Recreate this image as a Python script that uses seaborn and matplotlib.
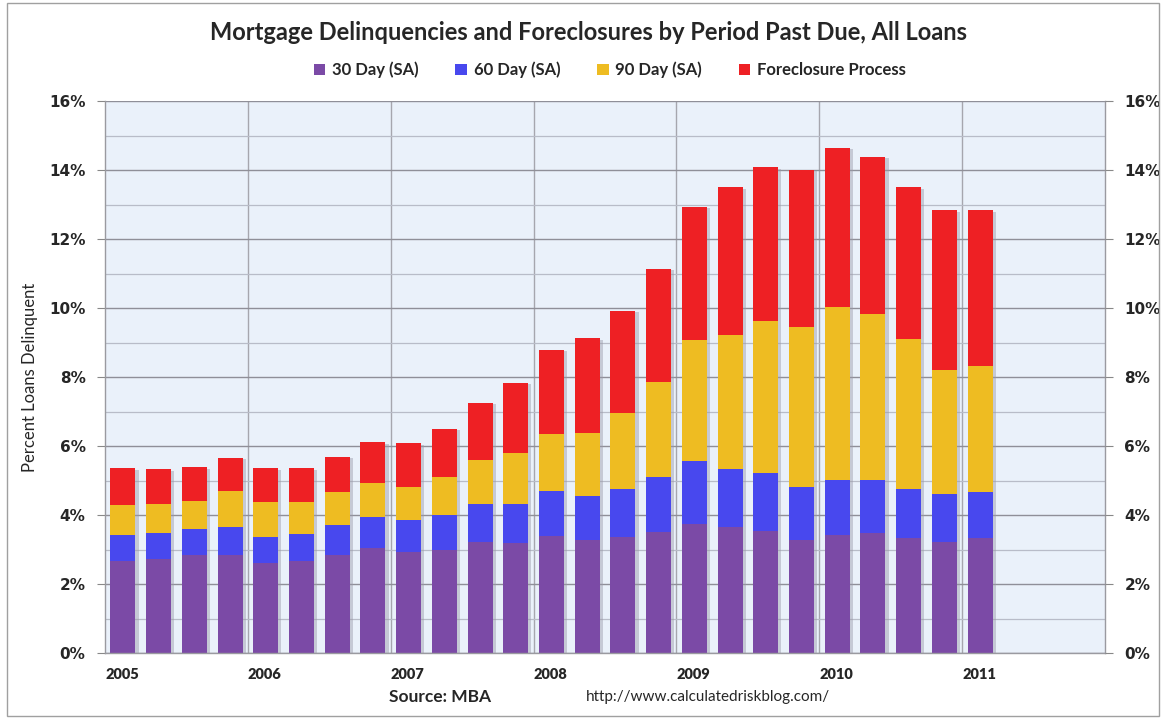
import numpy as np
import pandas as pd
import matplotlib
matplotlib.use("Agg")
import matplotlib.pyplot as plt
from matplotlib.patches import Patch, Rectangle
from matplotlib.ticker import MultipleLocator
import seaborn as sns

quarters = [f"{y}Q{q}" for y in range(2005, 2011) for q in range(1, 5)] + ["2011Q1"]
year_labels = ["2005", "2006", "2007", "2008", "2009", "2010", "2011"]
pct_ticks = [0, 2, 4, 6, 8, 10, 12, 14, 16]
pct_labels = [f"{t}%" for t in pct_ticks]

d30 = [2.67, 2.72, 2.84, 2.84, 2.61, 2.66, 2.85, 3.04, 2.92, 3.00, 3.21, 3.18, 3.40,
       3.28, 3.37, 3.51, 3.74, 3.64, 3.54, 3.28, 3.41, 3.47, 3.32, 3.21, 3.32]
d60 = [0.75, 0.76, 0.75, 0.81, 0.76, 0.79, 0.85, 0.91, 0.93, 1.00, 1.11, 1.14, 1.29,
       1.26, 1.39, 1.59, 1.83, 1.68, 1.68, 1.54, 1.60, 1.54, 1.44, 1.39, 1.36]
d90 = [0.87, 0.84, 0.82, 1.04, 1.01, 0.93, 0.96, 0.97, 0.97, 1.10, 1.27, 1.49, 1.66,
       1.85, 2.19, 2.76, 3.50, 3.90, 4.39, 4.64, 5.01, 4.83, 4.34, 3.61, 3.64]
fcl = [1.06, 1.00, 0.97, 0.97, 0.97, 0.97, 1.03, 1.19, 1.26, 1.39, 1.67, 2.02, 2.44,
       2.73, 2.96, 3.28, 3.86, 4.28, 4.47, 4.54, 4.62, 4.55, 4.40, 4.62, 4.51]

series_names = ["30 Day (SA)", "60 Day (SA)", "90 Day (SA)", "Foreclosure Process"]
colors = ["#7B4AA6", "#4848EE", "#EEBC22", "#EE2024"]

df = pd.DataFrame({"quarter": quarters, "30": d30, "60": d60, "90": d90, "fc": fcl})
df["c30"] = df["30"]
df["c60"] = df["c30"] + df["60"]
df["c90"] = df["c60"] + df["90"]
df["ctot"] = df["c90"] + df["fc"]

sns.set_theme(style="white")
plt.rcParams["font.family"] = ["Lato", "DejaVu Sans"]

fig = plt.figure(figsize=(11.66, 7.19), dpi=100)
fig.patch.set_facecolor("white")
ax = fig.add_axes([105 / 1166, 66 / 719, 1000 / 1166, 552 / 719])
ax.set_facecolor("#EAF1FA")

n = len(quarters)
# drop shadows
ax.bar(np.arange(n) + 0.09, df["ctot"], width=0.7, bottom=-0.04, color="#9a9aa8",
       alpha=0.45, zorder=0.9, linewidth=0)

for col, c in zip(["ctot", "c90", "c60", "c30"], colors[::-1]):
    sns.barplot(data=df, x="quarter", y=col, order=quarters, color=c, width=0.7,
                errorbar=None, saturation=1, ax=ax, zorder=2, linewidth=0)

ax.set_xlim(-0.5, 27.5)
ax.set_ylim(0, 16)
ax.set_axisbelow(True)

# grid
ax.set_yticks(pct_ticks)
ax.set_yticklabels(pct_labels, fontfamily="DejaVu Sans", fontweight="bold", fontsize=11)
ax.yaxis.set_minor_locator(MultipleLocator(1))
ax.grid(which="major", axis="y", color="#8f8f98", lw=1.0, zorder=0)
ax.grid(which="minor", axis="y", color="#b8bcc8", lw=0.9, zorder=0)
bounds = [-0.5 + 4 * i for i in range(7)]
for b in bounds[1:]:
    ax.axvline(b, color="#a6a6ae", lw=1.0, zorder=0.5)

ax.tick_params(axis="y", which="major", direction="out", length=6, width=0.8,
               color="#888888", pad=8)
ax.tick_params(axis="y", which="minor", length=0)

ax.set_xticks(bounds)
ax.set_xticklabels(year_labels, fontsize=10.5, fontweight="heavy", ha="left")
ax.tick_params(axis="x", direction="out", length=5, width=0.8, color="#888888", pad=6)
ax.set_xlabel("")
ax.set_ylabel("Percent Loans Delinquent", fontsize=12, labelpad=8)

for s in ["left", "right", "bottom", "top"]:
    ax.spines[s].set_color("#9a9aa0")
    ax.spines[s].set_linewidth(1.0)
ax.spines["top"].set_visible(False)

ax2 = ax.twinx()
ax2.set_ylim(0, 16)
ax2.set_yticks(pct_ticks)
ax2.set_yticklabels(pct_labels, fontfamily="DejaVu Sans", fontweight="bold", fontsize=11)
ax2.tick_params(axis="y", direction="out", length=6, width=0.8, color="#888888", pad=8)
for s in ["left", "right", "bottom", "top"]:
    ax2.spines[s].set_visible(False)
ax2.grid(False)

fig.text(0.505, 1 - 32 / 719, "Mortgage Delinquencies and Foreclosures by Period Past Due, All Loans",
         ha="center", va="center", fontsize=17, fontweight="bold")

handles = [Patch(facecolor=c, edgecolor="none", label=l) for c, l in zip(colors, series_names)]
leg = fig.legend(handles=handles, loc="center", bbox_to_anchor=(0.523, 1 - 70 / 719), ncol=4,
                 frameon=False, handlelength=0.7, handleheight=0.7, handletextpad=0.4,
                 columnspacing=2.2, prop={"family": "Lato", "weight": "bold", "size": 12})

fig.text(440 / 1166, 1 - 697 / 719, "Source: MBA", ha="center", va="center",
         fontsize=12.5, fontweight="bold")
fig.text(708 / 1166, 1 - 697 / 719, "http://www.calculatedriskblog.com/", ha="center",
         va="center", fontsize=11)

fig.patches.append(Rectangle((0.006, 0.004), 0.988, 0.992, transform=fig.transFigure,
                             fill=False, edgecolor="#a0a0a0", lw=1.0))

fig.savefig("out.png", dpi=100)
